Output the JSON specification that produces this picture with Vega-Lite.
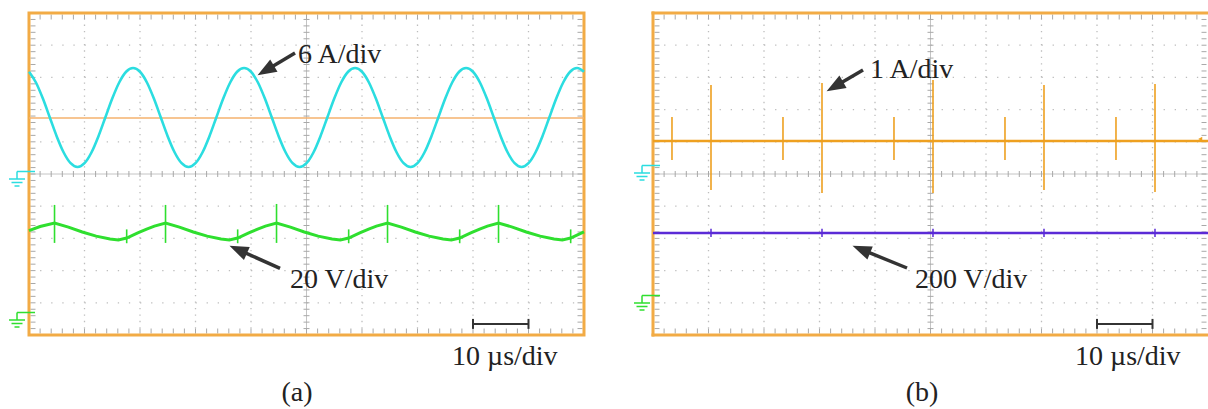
{
 "$schema": "https://vega.github.io/schema/vega-lite/v6.json",
 "background": "white",
 "padding": 0,
 "spacing": 0,
 "bounds": "flush",
 "config": {"view": {"stroke": null}, "font": "Liberation Serif"},
 "datasets": {
  "one": [{"k": 1}],
  "xs": [{"x":0.2},{"x":0.4},{"x":0.6},{"x":0.8},{"x":1},{"x":1.2},{"x":1.4},{"x":1.6},{"x":1.8},{"x":2},{"x":2.2},{"x":2.4},{"x":2.6},{"x":2.8},{"x":3},{"x":3.2},{"x":3.4},{"x":3.6},{"x":3.8},{"x":4},{"x":4.2},{"x":4.4},{"x":4.6},{"x":4.8},{"x":5},{"x":5.2},{"x":5.4},{"x":5.6},{"x":5.8},{"x":6},{"x":6.2},{"x":6.4},{"x":6.6},{"x":6.8},{"x":7},{"x":7.2},{"x":7.4},{"x":7.6},{"x":7.8},{"x":8},{"x":8.2},{"x":8.4},{"x":8.6},{"x":8.8},{"x":9},{"x":9.2},{"x":9.4},{"x":9.6},{"x":9.8}],
  "ys": [{"y":-4.8},{"y":-4.6},{"y":-4.4},{"y":-4.2},{"y":-4},{"y":-3.8},{"y":-3.6},{"y":-3.4},{"y":-3.2},{"y":-3},{"y":-2.8},{"y":-2.6},{"y":-2.4},{"y":-2.2},{"y":-2},{"y":-1.8},{"y":-1.6},{"y":-1.4},{"y":-1.2},{"y":-1},{"y":-0.8},{"y":-0.6},{"y":-0.4},{"y":-0.2},{"y":0},{"y":0.2},{"y":0.4},{"y":0.6},{"y":0.8},{"y":1},{"y":1.2},{"y":1.4},{"y":1.6},{"y":1.8},{"y":2},{"y":2.2},{"y":2.4},{"y":2.6},{"y":2.8},{"y":3},{"y":3.2},{"y":3.4},{"y":3.6},{"y":3.8},{"y":4},{"y":4.2},{"y":4.4},{"y":4.6},{"y":4.8}],
  "gx": [{"x":1},{"x":2},{"x":3},{"x":4},{"x":6},{"x":7},{"x":8},{"x":9}],
  "gy": [{"y":-4},{"y":-3},{"y":-2},{"y":-1},{"y":1},{"y":2},{"y":3},{"y":4}],
  "caps": [{"x":8},{"x":9}],
  "cyan": [{"x":0,"y":3.175},{"x":0.125,"y":2.842},{"x":0.25,"y":2.343},{"x":0.375,"y":1.755},{"x":0.5,"y":1.167},{"x":0.625,"y":0.668},{"x":0.75,"y":0.335},{"x":0.875,"y":0.218},{"x":1,"y":0.335},{"x":1.125,"y":0.668},{"x":1.25,"y":1.167},{"x":1.375,"y":1.755},{"x":1.5,"y":2.343},{"x":1.625,"y":2.842},{"x":1.75,"y":3.175},{"x":1.875,"y":3.292},
           {"x":2,"y":3.175},{"x":2.125,"y":2.842},{"x":2.25,"y":2.343},{"x":2.375,"y":1.755},{"x":2.5,"y":1.167},{"x":2.625,"y":0.668},{"x":2.75,"y":0.335},{"x":2.875,"y":0.218},{"x":3,"y":0.335},{"x":3.125,"y":0.668},{"x":3.25,"y":1.167},{"x":3.375,"y":1.755},{"x":3.5,"y":2.343},{"x":3.625,"y":2.842},{"x":3.75,"y":3.175},{"x":3.875,"y":3.292},
           {"x":4,"y":3.175},{"x":4.125,"y":2.842},{"x":4.25,"y":2.343},{"x":4.375,"y":1.755},{"x":4.5,"y":1.167},{"x":4.625,"y":0.668},{"x":4.75,"y":0.335},{"x":4.875,"y":0.218},{"x":5,"y":0.335},{"x":5.125,"y":0.668},{"x":5.25,"y":1.167},{"x":5.375,"y":1.755},{"x":5.5,"y":2.343},{"x":5.625,"y":2.842},{"x":5.75,"y":3.175},{"x":5.875,"y":3.292},
           {"x":6,"y":3.175},{"x":6.125,"y":2.842},{"x":6.25,"y":2.343},{"x":6.375,"y":1.755},{"x":6.5,"y":1.167},{"x":6.625,"y":0.668},{"x":6.75,"y":0.335},{"x":6.875,"y":0.218},{"x":7,"y":0.335},{"x":7.125,"y":0.668},{"x":7.25,"y":1.167},{"x":7.375,"y":1.755},{"x":7.5,"y":2.343},{"x":7.625,"y":2.842},{"x":7.75,"y":3.175},{"x":7.875,"y":3.292},
           {"x":8,"y":3.175},{"x":8.125,"y":2.842},{"x":8.25,"y":2.343},{"x":8.375,"y":1.755},{"x":8.5,"y":1.167},{"x":8.625,"y":0.668},{"x":8.75,"y":0.335},{"x":8.875,"y":0.218},{"x":9,"y":0.335},{"x":9.125,"y":0.668},{"x":9.25,"y":1.167},{"x":9.375,"y":1.755},{"x":9.5,"y":2.343},{"x":9.625,"y":2.842},{"x":9.75,"y":3.175},{"x":9.875,"y":3.292},{"x":10,"y":3.175}],
  "green": [{"x":0,"y":-1.76},{"x":0.2,"y":-1.63},{"x":0.46,"y":-1.52},{"x":0.71,"y":-1.65},{"x":0.96,"y":-1.8},{"x":1.21,"y":-1.93},{"x":1.46,"y":-2.02},{"x":1.61,"y":-2.05},{"x":1.76,"y":-1.99},{"x":1.96,"y":-1.83},{"x":2.12,"y":-1.71},{"x":2.26,"y":-1.62},
            {"x":2.46,"y":-1.52},{"x":2.71,"y":-1.65},{"x":2.96,"y":-1.8},{"x":3.21,"y":-1.93},{"x":3.46,"y":-2.02},{"x":3.61,"y":-2.05},{"x":3.76,"y":-1.99},{"x":3.96,"y":-1.83},{"x":4.12,"y":-1.71},{"x":4.26,"y":-1.62},
            {"x":4.46,"y":-1.52},{"x":4.71,"y":-1.65},{"x":4.96,"y":-1.8},{"x":5.21,"y":-1.93},{"x":5.46,"y":-2.02},{"x":5.61,"y":-2.05},{"x":5.76,"y":-1.99},{"x":5.96,"y":-1.83},{"x":6.12,"y":-1.71},{"x":6.26,"y":-1.62},
            {"x":6.46,"y":-1.52},{"x":6.71,"y":-1.65},{"x":6.96,"y":-1.8},{"x":7.21,"y":-1.93},{"x":7.46,"y":-2.02},{"x":7.61,"y":-2.05},{"x":7.76,"y":-1.99},{"x":7.96,"y":-1.83},{"x":8.12,"y":-1.71},{"x":8.26,"y":-1.62},
            {"x":8.46,"y":-1.52},{"x":8.71,"y":-1.65},{"x":8.96,"y":-1.8},{"x":9.21,"y":-1.93},{"x":9.46,"y":-2.02},{"x":9.61,"y":-2.05},{"x":9.76,"y":-1.99},{"x":9.96,"y":-1.83},{"x":10,"y":-1.8}],
  "gspk": [{"x":0.46,"y":-0.96,"y2":-2.14},{"x":2.46,"y":-0.96,"y2":-2.14},{"x":4.46,"y":-0.93,"y2":-2.14},{"x":6.46,"y":-0.96,"y2":-2.14},{"x":8.46,"y":-0.96,"y2":-2.14},
           {"x":1.76,"y":-1.72,"y2":-2.15},{"x":3.76,"y":-1.72,"y2":-2.15},{"x":5.76,"y":-1.72,"y2":-2.15},{"x":7.76,"y":-1.72,"y2":-2.15},{"x":9.76,"y":-1.72,"y2":-2.15}],
  "ospk": [{"x":1.045,"y":2.764,"y2":-0.497},{"x":3.045,"y":2.826,"y2":-0.59},{"x":5.045,"y":2.919,"y2":-0.59},{"x":7.045,"y":2.764,"y2":-0.497},{"x":9.045,"y":2.795,"y2":-0.559},
           {"x":0.342,"y":1.77,"y2":0.435},{"x":2.342,"y":1.77,"y2":0.435},{"x":4.342,"y":1.77,"y2":0.435},{"x":6.342,"y":1.77,"y2":0.435},{"x":8.342,"y":1.77,"y2":0.435}],
  "pspk": [{"x":1.045,"y":-1.7,"y2":-1.96},{"x":3.045,"y":-1.7,"y2":-1.96},{"x":5.045,"y":-1.7,"y2":-1.96},{"x":7.045,"y":-1.7,"y2":-1.96},{"x":9.045,"y":-1.7,"y2":-1.96}],
  "gndA": [{"x":-0.216,"y":-0.155,"ch":"i"},{"x":-0.216,"y":-4.534,"ch":"v"}],
  "gndB": [{"x":-0.198,"y":0.031,"ch":"i"},{"x":-0.198,"y":-4.006,"ch":"v"}],
  "arrA": [{"x":4.793,"y":3.758,"x2":4.265,"y2":3.217,"a":239.3},{"x":4.523,"y":-2.929,"x2":3.769,"y2":-2.351,"a":294}],
  "arrB": [{"x":3.784,"y":3.23,"x2":3.276,"y2":2.717,"a":239.7},{"x":4.577,"y":-2.919,"x2":3.753,"y2":-2.342,"a":292.2}],
  "labA": [{"x":4.847,"y":3.447,"t":"6 A/div"},{"x":4.703,"y":-3.54,"t":"20 V/div"},{"x":7.622,"y":-5.932,"t":"10 µs/div"}],
  "labB": [{"x":3.91,"y":2.981,"t":"1 A/div"},{"x":4.721,"y":-3.54,"t":"200 V/div"},{"x":7.604,"y":-5.932,"t":"10 µs/div"}],
  "capA": [{"x":4.829,"y":-7.05,"t":"(a)"}],
  "capB": [{"x":4.847,"y":-7.05,"t":"(b)"}]
 },
 "hconcat": [
  {
   "width": 604, "height": 409,
   "layer": [
    {"data":{"name":"gx"},"mark":{"type":"rule","color":"#bdbdbd","strokeWidth":1.3,"strokeDash":[1.3,5.14]},
     "encoding":{"x":{"field":"x","type":"quantitative","scale":{"domain":[-0.5225,10.3604],"nice":false,"zero":false},"axis":null},
                 "y":{"datum":-5,"type":"quantitative","scale":{"domain":[-7.298,5.404],"nice":false,"zero":false},"axis":null},"y2":{"datum":5}}},
    {"data":{"name":"gy"},"mark":{"type":"rule","color":"#bdbdbd","strokeWidth":1.3,"strokeDash":[1.3,9.8]},
     "encoding":{"y":{"field":"y","type":"quantitative","scale":{"domain":[-7.298,5.404],"nice":false,"zero":false},"axis":null},
                 "x":{"datum":0,"type":"quantitative","scale":{"domain":[-0.5225,10.3604],"nice":false,"zero":false},"axis":null},"x2":{"datum":10}}},
    {"data":{"name":"one"},"mark":{"type":"rule","color":"#c4c4c4","strokeWidth":1},
     "encoding":{"x":{"datum":5,"type":"quantitative","scale":{"domain":[-0.5225,10.3604],"nice":false,"zero":false},"axis":null},
                 "y":{"datum":-5,"type":"quantitative","scale":{"domain":[-7.298,5.404],"nice":false,"zero":false},"axis":null},"y2":{"datum":5}}},
    {"data":{"name":"one"},"mark":{"type":"rule","color":"#c4c4c4","strokeWidth":1},
     "encoding":{"y":{"datum":0,"type":"quantitative","scale":{"domain":[-7.298,5.404],"nice":false,"zero":false},"axis":null},
                 "x":{"datum":0,"type":"quantitative","scale":{"domain":[-0.5225,10.3604],"nice":false,"zero":false},"axis":null},"x2":{"datum":10}}},
    {"data":{"name":"xs"},"mark":{"type":"tick","orient":"vertical","size":6,"thickness":1,"color":"#a8a8a8","opacity":1},
     "encoding":{"x":{"field":"x","type":"quantitative","scale":{"domain":[-0.5225,10.3604],"nice":false,"zero":false},"axis":null},
                 "y":{"datum":0,"type":"quantitative","scale":{"domain":[-7.298,5.404],"nice":false,"zero":false},"axis":null}}},
    {"data":{"name":"xs"},"mark":{"type":"tick","orient":"vertical","size":5,"thickness":1,"color":"#a8a8a8","opacity":1},
     "encoding":{"x":{"field":"x","type":"quantitative","scale":{"domain":[-0.5225,10.3604],"nice":false,"zero":false},"axis":null},
                 "y":{"datum":-4.876,"type":"quantitative","scale":{"domain":[-7.298,5.404],"nice":false,"zero":false},"axis":null}}},
    {"data":{"name":"xs"},"mark":{"type":"tick","orient":"vertical","size":5,"thickness":1,"color":"#a8a8a8","opacity":1},
     "encoding":{"x":{"field":"x","type":"quantitative","scale":{"domain":[-0.5225,10.3604],"nice":false,"zero":false},"axis":null},
                 "y":{"datum":4.876,"type":"quantitative","scale":{"domain":[-7.298,5.404],"nice":false,"zero":false},"axis":null}}},
    {"data":{"name":"ys"},"mark":{"type":"tick","orient":"horizontal","size":6,"thickness":1,"color":"#a8a8a8","opacity":1},
     "encoding":{"y":{"field":"y","type":"quantitative","scale":{"domain":[-7.298,5.404],"nice":false,"zero":false},"axis":null},
                 "x":{"datum":5,"type":"quantitative","scale":{"domain":[-0.5225,10.3604],"nice":false,"zero":false},"axis":null}}},
    {"data":{"name":"ys"},"mark":{"type":"tick","orient":"horizontal","size":5,"thickness":1,"color":"#a8a8a8","opacity":1},
     "encoding":{"y":{"field":"y","type":"quantitative","scale":{"domain":[-7.298,5.404],"nice":false,"zero":false},"axis":null},
                 "x":{"datum":0.072,"type":"quantitative","scale":{"domain":[-0.5225,10.3604],"nice":false,"zero":false},"axis":null}}},
    {"data":{"name":"ys"},"mark":{"type":"tick","orient":"horizontal","size":5,"thickness":1,"color":"#a8a8a8","opacity":1},
     "encoding":{"y":{"field":"y","type":"quantitative","scale":{"domain":[-7.298,5.404],"nice":false,"zero":false},"axis":null},
                 "x":{"datum":9.928,"type":"quantitative","scale":{"domain":[-0.5225,10.3604],"nice":false,"zero":false},"axis":null}}},
    {"data":{"name":"one"},"mark":{"type":"rect","fillOpacity":0,"stroke":"#f2ab45","strokeWidth":3},
     "encoding":{"x":{"datum":0,"type":"quantitative","scale":{"domain":[-0.5225,10.3604],"nice":false,"zero":false},"axis":null},"x2":{"datum":10},
                 "y":{"datum":-5,"type":"quantitative","scale":{"domain":[-7.298,5.404],"nice":false,"zero":false},"axis":null},"y2":{"datum":5}}},
    {"data":{"name":"one"},"mark":{"type":"rule","color":"#f5b26e","strokeWidth":1.3},
     "encoding":{"y":{"datum":1.739,"type":"quantitative","scale":{"domain":[-7.298,5.404],"nice":false,"zero":false},"axis":null},
                 "x":{"datum":0,"type":"quantitative","scale":{"domain":[-0.5225,10.3604],"nice":false,"zero":false},"axis":null},"x2":{"datum":10}}},
    {"data":{"name":"cyan"},"mark":{"type":"line","color":"#2bdde0","strokeWidth":2.6,"interpolate":"monotone"},
     "encoding":{"x":{"field":"x","type":"quantitative","scale":{"domain":[-0.5225,10.3604],"nice":false,"zero":false},"axis":null},
                 "y":{"field":"y","type":"quantitative","scale":{"domain":[-7.298,5.404],"nice":false,"zero":false},"axis":null}}},
    {"data":{"name":"green"},"mark":{"type":"line","color":"#2fdf2f","strokeWidth":3,"interpolate":"linear"},
     "encoding":{"x":{"field":"x","type":"quantitative","scale":{"domain":[-0.5225,10.3604],"nice":false,"zero":false},"axis":null},
                 "y":{"field":"y","type":"quantitative","scale":{"domain":[-7.298,5.404],"nice":false,"zero":false},"axis":null}}},
    {"data":{"name":"gspk"},"mark":{"type":"rule","color":"#2fdf2f","strokeWidth":1.6},
     "encoding":{"x":{"field":"x","type":"quantitative","scale":{"domain":[-0.5225,10.3604],"nice":false,"zero":false},"axis":null},
                 "y":{"field":"y","type":"quantitative","scale":{"domain":[-7.298,5.404],"nice":false,"zero":false},"axis":null},"y2":{"field":"y2"}}},
    {"data":{"name":"gndA"},"mark":{"type":"point","filled":false,"size":4,"strokeWidth":1.5,"opacity":1,"shape":"M0,-7.5L18,-7.5M0,-7.5L0,0M-8,0L8,0M-5.5,3.5L5.5,3.5M-2.5,7L2.5,7"},
     "encoding":{"x":{"field":"x","type":"quantitative","scale":{"domain":[-0.5225,10.3604],"nice":false,"zero":false},"axis":null},
                 "y":{"field":"y","type":"quantitative","scale":{"domain":[-7.298,5.404],"nice":false,"zero":false},"axis":null},
                 "color":{"field":"ch","type":"nominal","scale":{"domain":["i","v"],"range":["#2bdde0","#2fdf2f"]},"legend":null}}},
    {"data":{"name":"one"},"mark":{"type":"rule","color":"#333333","strokeWidth":2},
     "encoding":{"x":{"datum":8,"type":"quantitative","scale":{"domain":[-0.5225,10.3604],"nice":false,"zero":false},"axis":null},"x2":{"datum":9},
                 "y":{"datum":-4.658,"type":"quantitative","scale":{"domain":[-7.298,5.404],"nice":false,"zero":false},"axis":null}}},
    {"data":{"name":"caps"},"mark":{"type":"rule","color":"#333333","strokeWidth":2},
     "encoding":{"x":{"field":"x","type":"quantitative","scale":{"domain":[-0.5225,10.3604],"nice":false,"zero":false},"axis":null},
                 "y":{"datum":-4.5,"type":"quantitative","scale":{"domain":[-7.298,5.404],"nice":false,"zero":false},"axis":null},"y2":{"datum":-4.81}}},
    {"data":{"name":"arrA"},"mark":{"type":"rule","color":"#333333","strokeWidth":3.5},
     "encoding":{"x":{"field":"x","type":"quantitative","scale":{"domain":[-0.5225,10.3604],"nice":false,"zero":false},"axis":null},"x2":{"field":"x2"},
                 "y":{"field":"y","type":"quantitative","scale":{"domain":[-7.298,5.404],"nice":false,"zero":false},"axis":null},"y2":{"field":"y2"}}},
    {"data":{"name":"arrA"},"mark":{"type":"point","filled":true,"size":360,"opacity":1,"color":"#333333","shape":"M0,-1L0.75,1L-0.75,1Z"},
     "encoding":{"x":{"field":"x2","type":"quantitative","scale":{"domain":[-0.5225,10.3604],"nice":false,"zero":false},"axis":null},
                 "y":{"field":"y2","type":"quantitative","scale":{"domain":[-7.298,5.404],"nice":false,"zero":false},"axis":null},
                 "angle":{"field":"a","type":"quantitative","scale":null}}},
    {"data":{"name":"labA"},"mark":{"type":"text","align":"left","baseline":"alphabetic","fontSize":28,"font":"Liberation Serif","color":"#222222"},
     "encoding":{"x":{"field":"x","type":"quantitative","scale":{"domain":[-0.5225,10.3604],"nice":false,"zero":false},"axis":null},
                 "y":{"field":"y","type":"quantitative","scale":{"domain":[-7.298,5.404],"nice":false,"zero":false},"axis":null},
                 "text":{"field":"t"}}},
    {"data":{"name":"capA"},"mark":{"type":"text","align":"center","baseline":"alphabetic","fontSize":28,"font":"Liberation Serif","color":"#222222"},
     "encoding":{"x":{"field":"x","type":"quantitative","scale":{"domain":[-0.5225,10.3604],"nice":false,"zero":false},"axis":null},
                 "y":{"field":"y","type":"quantitative","scale":{"domain":[-7.298,5.404],"nice":false,"zero":false},"axis":null},
                 "text":{"field":"t"}}}
   ]
  },
  {
   "width": 604, "height": 409,
   "layer": [
    {"data":{"name":"gx"},"mark":{"type":"rule","color":"#bdbdbd","strokeWidth":1.3,"strokeDash":[1.3,5.14]},
     "encoding":{"x":{"field":"x","type":"quantitative","scale":{"domain":[-0.8829,10],"nice":false,"zero":false},"axis":null},
                 "y":{"datum":-5,"type":"quantitative","scale":{"domain":[-7.298,5.404],"nice":false,"zero":false},"axis":null},"y2":{"datum":5}}},
    {"data":{"name":"gy"},"mark":{"type":"rule","color":"#bdbdbd","strokeWidth":1.3,"strokeDash":[1.3,9.8]},
     "encoding":{"y":{"field":"y","type":"quantitative","scale":{"domain":[-7.298,5.404],"nice":false,"zero":false},"axis":null},
                 "x":{"datum":0,"type":"quantitative","scale":{"domain":[-0.8829,10],"nice":false,"zero":false},"axis":null},"x2":{"datum":10}}},
    {"data":{"name":"one"},"mark":{"type":"rule","color":"#c4c4c4","strokeWidth":1},
     "encoding":{"x":{"datum":5,"type":"quantitative","scale":{"domain":[-0.8829,10],"nice":false,"zero":false},"axis":null},
                 "y":{"datum":-5,"type":"quantitative","scale":{"domain":[-7.298,5.404],"nice":false,"zero":false},"axis":null},"y2":{"datum":5}}},
    {"data":{"name":"one"},"mark":{"type":"rule","color":"#c4c4c4","strokeWidth":1},
     "encoding":{"y":{"datum":0,"type":"quantitative","scale":{"domain":[-7.298,5.404],"nice":false,"zero":false},"axis":null},
                 "x":{"datum":0,"type":"quantitative","scale":{"domain":[-0.8829,10],"nice":false,"zero":false},"axis":null},"x2":{"datum":10}}},
    {"data":{"name":"xs"},"mark":{"type":"tick","orient":"vertical","size":6,"thickness":1,"color":"#a8a8a8","opacity":1},
     "encoding":{"x":{"field":"x","type":"quantitative","scale":{"domain":[-0.8829,10],"nice":false,"zero":false},"axis":null},
                 "y":{"datum":0,"type":"quantitative","scale":{"domain":[-7.298,5.404],"nice":false,"zero":false},"axis":null}}},
    {"data":{"name":"xs"},"mark":{"type":"tick","orient":"vertical","size":5,"thickness":1,"color":"#a8a8a8","opacity":1},
     "encoding":{"x":{"field":"x","type":"quantitative","scale":{"domain":[-0.8829,10],"nice":false,"zero":false},"axis":null},
                 "y":{"datum":-4.876,"type":"quantitative","scale":{"domain":[-7.298,5.404],"nice":false,"zero":false},"axis":null}}},
    {"data":{"name":"xs"},"mark":{"type":"tick","orient":"vertical","size":5,"thickness":1,"color":"#a8a8a8","opacity":1},
     "encoding":{"x":{"field":"x","type":"quantitative","scale":{"domain":[-0.8829,10],"nice":false,"zero":false},"axis":null},
                 "y":{"datum":4.876,"type":"quantitative","scale":{"domain":[-7.298,5.404],"nice":false,"zero":false},"axis":null}}},
    {"data":{"name":"ys"},"mark":{"type":"tick","orient":"horizontal","size":6,"thickness":1,"color":"#a8a8a8","opacity":1},
     "encoding":{"y":{"field":"y","type":"quantitative","scale":{"domain":[-7.298,5.404],"nice":false,"zero":false},"axis":null},
                 "x":{"datum":5,"type":"quantitative","scale":{"domain":[-0.8829,10],"nice":false,"zero":false},"axis":null}}},
    {"data":{"name":"ys"},"mark":{"type":"tick","orient":"horizontal","size":5,"thickness":1,"color":"#a8a8a8","opacity":1},
     "encoding":{"y":{"field":"y","type":"quantitative","scale":{"domain":[-7.298,5.404],"nice":false,"zero":false},"axis":null},
                 "x":{"datum":0.072,"type":"quantitative","scale":{"domain":[-0.8829,10],"nice":false,"zero":false},"axis":null}}},
    {"data":{"name":"ys"},"mark":{"type":"tick","orient":"horizontal","size":5,"thickness":1,"color":"#a8a8a8","opacity":1},
     "encoding":{"y":{"field":"y","type":"quantitative","scale":{"domain":[-7.298,5.404],"nice":false,"zero":false},"axis":null},
                 "x":{"datum":9.928,"type":"quantitative","scale":{"domain":[-0.8829,10],"nice":false,"zero":false},"axis":null}}},
    {"data":{"name":"one"},"mark":{"type":"rule","color":"#f2ab45","strokeWidth":3,"strokeCap":"square"},
     "encoding":{"x":{"datum":0,"type":"quantitative","scale":{"domain":[-0.8829,10],"nice":false,"zero":false},"axis":null},
                 "y":{"datum":-5,"type":"quantitative","scale":{"domain":[-7.298,5.404],"nice":false,"zero":false},"axis":null},"y2":{"datum":5}}},
    {"data":{"name":"one"},"mark":{"type":"rule","color":"#f2ab45","strokeWidth":3,"strokeCap":"square"},
     "encoding":{"y":{"datum":5,"type":"quantitative","scale":{"domain":[-7.298,5.404],"nice":false,"zero":false},"axis":null},
                 "x":{"datum":0,"type":"quantitative","scale":{"domain":[-0.8829,10],"nice":false,"zero":false},"axis":null},"x2":{"datum":10}}},
    {"data":{"name":"one"},"mark":{"type":"rule","color":"#f2ab45","strokeWidth":3,"strokeCap":"square"},
     "encoding":{"y":{"datum":-5,"type":"quantitative","scale":{"domain":[-7.298,5.404],"nice":false,"zero":false},"axis":null},
                 "x":{"datum":0,"type":"quantitative","scale":{"domain":[-0.8829,10],"nice":false,"zero":false},"axis":null},"x2":{"datum":10}}},
    {"data":{"name":"one"},"mark":{"type":"rule","color":"#eea020","strokeWidth":2.6},
     "encoding":{"y":{"datum":1.025,"type":"quantitative","scale":{"domain":[-7.298,5.404],"nice":false,"zero":false},"axis":null},
                 "x":{"datum":0,"type":"quantitative","scale":{"domain":[-0.8829,10],"nice":false,"zero":false},"axis":null},"x2":{"datum":10}}},
    {"data":{"name":"ospk"},"mark":{"type":"rule","color":"#eea020","strokeWidth":1.6},
     "encoding":{"x":{"field":"x","type":"quantitative","scale":{"domain":[-0.8829,10],"nice":false,"zero":false},"axis":null},
                 "y":{"field":"y","type":"quantitative","scale":{"domain":[-7.298,5.404],"nice":false,"zero":false},"axis":null},"y2":{"field":"y2"}}},
    {"data":{"name":"one"},"mark":{"type":"point","shape":"triangle-left","filled":true,"size":22,"opacity":1,"color":"#eea020"},
     "encoding":{"x":{"datum":9.86,"type":"quantitative","scale":{"domain":[-0.8829,10],"nice":false,"zero":false},"axis":null},
                 "y":{"datum":1.087,"type":"quantitative","scale":{"domain":[-7.298,5.404],"nice":false,"zero":false},"axis":null}}},
    {"data":{"name":"one"},"mark":{"type":"rule","color":"#5b2bd6","strokeWidth":2.6},
     "encoding":{"y":{"datum":-1.832,"type":"quantitative","scale":{"domain":[-7.298,5.404],"nice":false,"zero":false},"axis":null},
                 "x":{"datum":0,"type":"quantitative","scale":{"domain":[-0.8829,10],"nice":false,"zero":false},"axis":null},"x2":{"datum":10}}},
    {"data":{"name":"pspk"},"mark":{"type":"rule","color":"#5b2bd6","strokeWidth":1.5},
     "encoding":{"x":{"field":"x","type":"quantitative","scale":{"domain":[-0.8829,10],"nice":false,"zero":false},"axis":null},
                 "y":{"field":"y","type":"quantitative","scale":{"domain":[-7.298,5.404],"nice":false,"zero":false},"axis":null},"y2":{"field":"y2"}}},
    {"data":{"name":"gndB"},"mark":{"type":"point","filled":false,"size":4,"strokeWidth":1.5,"opacity":1,"shape":"M0,-7.5L18,-7.5M0,-7.5L0,0M-8,0L8,0M-5.5,3.5L5.5,3.5M-2.5,7L2.5,7"},
     "encoding":{"x":{"field":"x","type":"quantitative","scale":{"domain":[-0.8829,10],"nice":false,"zero":false},"axis":null},
                 "y":{"field":"y","type":"quantitative","scale":{"domain":[-7.298,5.404],"nice":false,"zero":false},"axis":null},
                 "color":{"field":"ch","type":"nominal","scale":{"domain":["i","v"],"range":["#eea020","#5b2bd6"]},"legend":null}}},
    {"data":{"name":"one"},"mark":{"type":"rule","color":"#333333","strokeWidth":2},
     "encoding":{"x":{"datum":8,"type":"quantitative","scale":{"domain":[-0.8829,10],"nice":false,"zero":false},"axis":null},"x2":{"datum":9},
                 "y":{"datum":-4.658,"type":"quantitative","scale":{"domain":[-7.298,5.404],"nice":false,"zero":false},"axis":null}}},
    {"data":{"name":"caps"},"mark":{"type":"rule","color":"#333333","strokeWidth":2},
     "encoding":{"x":{"field":"x","type":"quantitative","scale":{"domain":[-0.8829,10],"nice":false,"zero":false},"axis":null},
                 "y":{"datum":-4.5,"type":"quantitative","scale":{"domain":[-7.298,5.404],"nice":false,"zero":false},"axis":null},"y2":{"datum":-4.81}}},
    {"data":{"name":"arrB"},"mark":{"type":"rule","color":"#333333","strokeWidth":3.5},
     "encoding":{"x":{"field":"x","type":"quantitative","scale":{"domain":[-0.8829,10],"nice":false,"zero":false},"axis":null},"x2":{"field":"x2"},
                 "y":{"field":"y","type":"quantitative","scale":{"domain":[-7.298,5.404],"nice":false,"zero":false},"axis":null},"y2":{"field":"y2"}}},
    {"data":{"name":"arrB"},"mark":{"type":"point","filled":true,"size":360,"opacity":1,"color":"#333333","shape":"M0,-1L0.75,1L-0.75,1Z"},
     "encoding":{"x":{"field":"x2","type":"quantitative","scale":{"domain":[-0.8829,10],"nice":false,"zero":false},"axis":null},
                 "y":{"field":"y2","type":"quantitative","scale":{"domain":[-7.298,5.404],"nice":false,"zero":false},"axis":null},
                 "angle":{"field":"a","type":"quantitative","scale":null}}},
    {"data":{"name":"labB"},"mark":{"type":"text","align":"left","baseline":"alphabetic","fontSize":28,"font":"Liberation Serif","color":"#222222"},
     "encoding":{"x":{"field":"x","type":"quantitative","scale":{"domain":[-0.8829,10],"nice":false,"zero":false},"axis":null},
                 "y":{"field":"y","type":"quantitative","scale":{"domain":[-7.298,5.404],"nice":false,"zero":false},"axis":null},
                 "text":{"field":"t"}}},
    {"data":{"name":"capB"},"mark":{"type":"text","align":"center","baseline":"alphabetic","fontSize":28,"font":"Liberation Serif","color":"#222222"},
     "encoding":{"x":{"field":"x","type":"quantitative","scale":{"domain":[-0.8829,10],"nice":false,"zero":false},"axis":null},
                 "y":{"field":"y","type":"quantitative","scale":{"domain":[-7.298,5.404],"nice":false,"zero":false},"axis":null},
                 "text":{"field":"t"}}}
   ]
  }
 ]
}
